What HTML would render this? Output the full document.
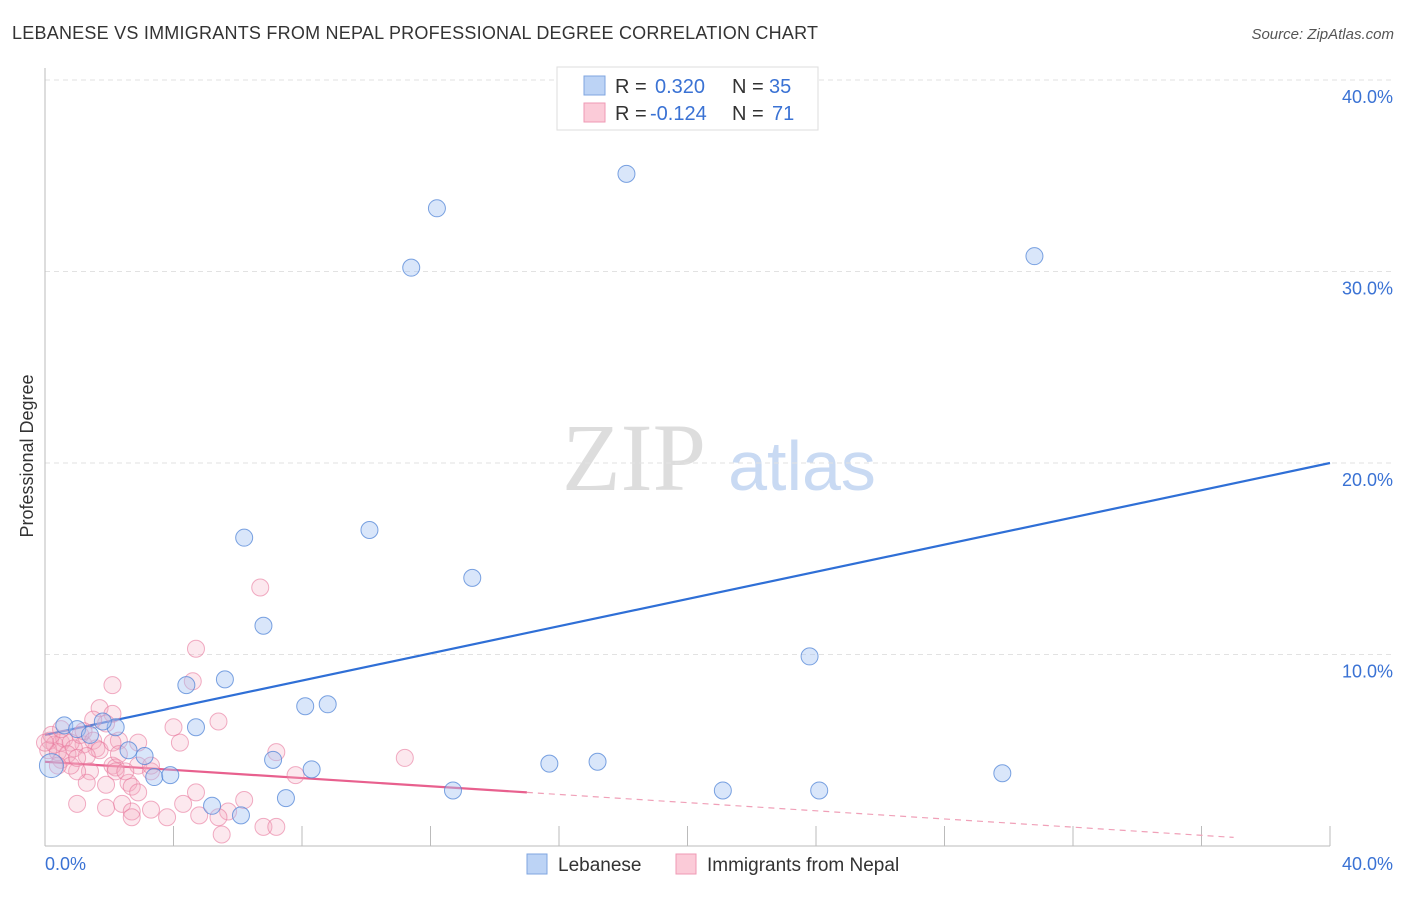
<!DOCTYPE html>
<html><head><meta charset="utf-8">
<style>
body{margin:0;background:#fff;font-family:"Liberation Sans",sans-serif;}
</style></head>
<body>
<svg id="chart" width="1406" height="892" viewBox="0 0 1406 892" style="font-family:'Liberation Sans',sans-serif">
<text x="12" y="39" font-size="18" fill="#333" textLength="806">LEBANESE VS IMMIGRANTS FROM NEPAL PROFESSIONAL DEGREE CORRELATION CHART</text>
<text x="1394" y="39" font-size="15" fill="#555" font-style="italic" text-anchor="end">Source: ZipAtlas.com</text>
<text x="33" y="456" font-size="18" fill="#333" text-anchor="middle" transform="rotate(-90 33 456)">Professional Degree</text>
<g>
<text x="634" y="490" font-size="96" fill="#ddd" style="font-family:'Liberation Serif',serif" text-anchor="middle">ZIP</text>
<text x="802" y="490" font-size="70" fill="#c9daf3" text-anchor="middle">atlas</text>
</g>
<g id="grid"></g>
<g id="axes"></g>
<g id="lines"></g>
<g id="points"></g>
<g>
<rect x="557" y="67" width="261" height="63" fill="#fff" stroke="#ddd"/>
<rect x="584" y="76" width="21" height="19" fill="#bcd3f5" stroke="#7fa6e0"/>
<rect x="584" y="103" width="21" height="19" fill="#fbcbd8" stroke="#ef9ab4"/>
<text x="615" y="93" font-size="20" fill="#333">R = </text><text x="655" y="93" font-size="20" fill="#3a72d4">0.320</text>
<text x="732" y="93" font-size="20" fill="#333">N = </text><text x="769" y="93" font-size="20" fill="#3a72d4">35</text>
<text x="615" y="120" font-size="20" fill="#333">R = </text><text x="650" y="120" font-size="20" fill="#3a72d4">-0.124</text>
<text x="732" y="120" font-size="20" fill="#333">N = </text><text x="772" y="120" font-size="20" fill="#3a72d4">71</text>
</g>
<g>
<rect x="527" y="854" width="20" height="20" fill="#bcd3f5" stroke="#7fa6e0"/>
<text x="558" y="871" font-size="19" fill="#333">Lebanese</text>
<rect x="676" y="854" width="20" height="20" fill="#fbcbd8" stroke="#ef9ab4"/>
<text x="707" y="871" font-size="19" fill="#333">Immigrants from Nepal</text>
</g>
</svg>
<script>
const yTicks=[10,20,30,40];
const yTickLabels=["10.0%","20.0%","30.0%","40.0%"];
const xTickVals=[0,4,8,12,16,20,24,28,32,36,40];
const lebX=[18.1,12.2,11.4,30.8,6.2,10.1,13.3,6.8,23.8,4.4,5.6,8.1,8.8,4.7,2.2,1.8,0.6,1.0,2.6,3.1,7.1,8.3,3.4,3.9,15.7,17.2,29.8,12.7,21.1,24.1,5.2,7.5,6.1,0.2,1.4];
const lebY=[35.1,33.3,30.2,30.8,16.1,16.5,14.0,11.5,9.9,8.4,8.7,7.3,7.4,6.2,6.2,6.5,6.3,6.1,5.0,4.7,4.5,4.0,3.6,3.7,4.3,4.4,3.8,2.9,2.9,2.9,2.1,2.5,1.6,4.2,5.8];
const nepX=[6.7,4.7,2.1,4.6,5.4,4.0,4.2,1.7,2.1,1.9,1.5,2.3,1.6,1.2,7.2,11.2,2.1,2.2,2.9,2.2,1.4,1.3,1.9,2.6,2.7,7.8,4.7,1.0,1.9,2.4,4.3,6.2,5.7,2.7,2.7,3.3,3.8,4.8,5.4,5.5,6.8,7.2,2.9,3.3,2.5,1.0,0.5,0.15,0.3,0.5,0.6,0.8,0.1,0.4,0.9,1.1,0.7,0.2,1.2,1.5,1.7,0.5,0.8,2.9,3.3,1.3,0.4,2.1,1.0,0.0,2.3];
const nepY=[13.5,10.3,8.4,8.6,6.5,6.2,5.4,7.2,6.9,6.4,6.6,5.5,5.1,5.3,4.9,4.6,4.2,4.1,4.2,3.9,3.9,3.3,3.2,3.3,3.1,3.7,2.8,2.2,2.0,2.2,2.2,2.4,1.8,1.8,1.5,1.9,1.5,1.6,1.5,0.6,1.0,1.0,2.8,3.9,3.9,3.9,4.5,5.5,5.3,5.4,5.6,5.4,5.0,4.9,5.1,5.8,4.8,5.8,6.0,5.5,5.0,6.1,4.2,5.4,4.2,4.7,4.2,5.4,4.6,5.4,4.8];
const lebLine=[5.8,20.0];
const nepLine=[4.4,0.13];
const nepSolidEnd=15;
const NS="http://www.w3.org/2000/svg";
const xs=v=>45+v*(1285/40);
const ys=v=>846-v*19.15;
function mk(tag,attrs,parent){const e=document.createElementNS(NS,tag);for(const k in attrs)e.setAttribute(k,attrs[k]);parent.appendChild(e);return e;}
const grid=document.getElementById('grid'),axes=document.getElementById('axes'),lines=document.getElementById('lines'),pts=document.getElementById('points');
yTicks.forEach((t,i)=>{
 const g=mk('line',{x1:45,x2:1394,y1:ys(t),y2:ys(t),stroke:'#e2e2e2','stroke-dasharray':'5,4'},grid);
 
 
 const l=mk('text',{x:1393,y:ys(t)+23,'font-size':18,fill:'#3a72d4','text-anchor':'end'},axes);
 l.textContent=yTickLabels[i];
 
 
});
const ya=mk('line',{x1:45,x2:45,y1:68,y2:846,stroke:'#bbb'},axes);


const xa=mk('line',{x1:45,x2:1330,y1:846,y2:846,stroke:'#bbb'},axes);


xTickVals.forEach(t=>{
 const tk=mk('line',{x1:xs(t),x2:xs(t),y1:826,y2:846,stroke:'#bbb'},axes);
 
 
});
const x0=mk('text',{x:45,y:870,'font-size':18,fill:'#3a72d4'},axes);x0.textContent='0.0%';


const x1=mk('text',{x:1393,y:870,'font-size':18,fill:'#3a72d4','text-anchor':'end'},axes);x1.textContent='40.0%';


nepX.forEach((x,i)=>{
 const c=mk('circle',{cx:xs(x),cy:ys(nepY[i]),r:8.5,fill:'rgba(246,172,194,0.28)',stroke:'rgba(232,120,156,0.6)','stroke-width':1},pts);
 
 
});
lebX.forEach((x,i)=>{
 const c=mk('circle',{cx:xs(x),cy:ys(lebY[i]),r:(i==33?12:8.5),fill:'rgba(164,196,242,0.42)',stroke:'rgba(80,132,215,0.75)','stroke-width':1},pts);
 
 
});
const bl=mk('line',{x1:xs(0),y1:ys(lebLine[0]),x2:xs(40),y2:ys(lebLine[1]),stroke:'#2f6fd6','stroke-width':2.2},lines);


const ny=x=>nepLine[0]+(nepLine[1]-nepLine[0])*x/40;
const pl=mk('line',{x1:xs(0),y1:ys(ny(0)),x2:xs(nepSolidEnd),y2:ys(ny(nepSolidEnd)),stroke:'#e8608e','stroke-width':2.2},lines);


const pd=mk('line',{x1:xs(nepSolidEnd),y1:ys(ny(nepSolidEnd)),x2:xs(37),y2:ys(ny(37)),stroke:'#f0a0b8','stroke-width':1.2,'stroke-dasharray':'6,5'},lines);


</script>
</body></html>
